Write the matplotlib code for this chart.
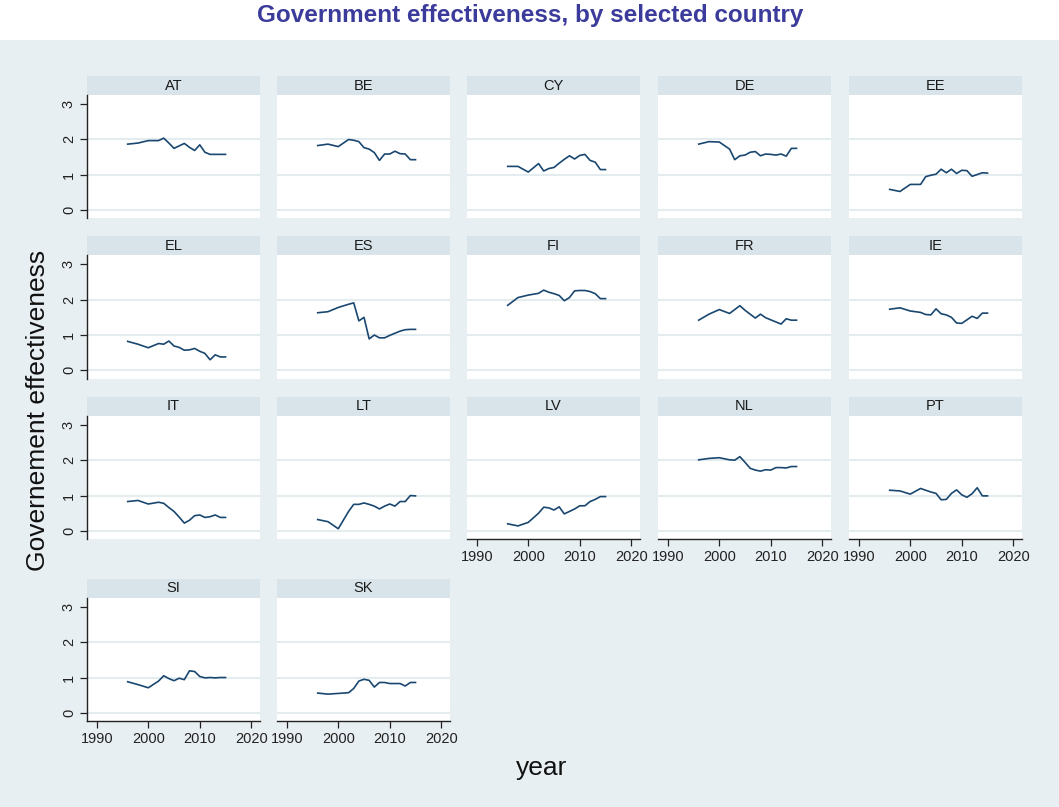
import matplotlib
matplotlib.use("Agg")
import matplotlib.pyplot as plt
from matplotlib.patches import Rectangle

plt.rcParams['font.family'] = ['Liberation Sans', 'DejaVu Sans']

years = [1996, 1998, 2000, 2002, 2003, 2004, 2005, 2006, 2007, 2008,
         2009, 2010, 2011, 2012, 2013, 2014, 2015]

AT = [1.86, 1.89, 1.96, 1.96, 2.03, 1.89, 1.74, 1.81, 1.88, 1.77, 1.68, 1.84, 1.63, 1.57, 1.57, 1.57, 1.57]
BE = [1.82, 1.86, 1.79, 1.99, 1.97, 1.93, 1.76, 1.72, 1.62, 1.40, 1.58, 1.58, 1.66, 1.59, 1.58, 1.42, 1.42]
CY = [1.23, 1.23, 1.07, 1.31, 1.10, 1.17, 1.20, 1.32, 1.43, 1.53, 1.44, 1.54, 1.57, 1.40, 1.35, 1.14, 1.14]
DE = [1.86, 1.93, 1.92, 1.72, 1.42, 1.53, 1.55, 1.63, 1.65, 1.53, 1.58, 1.57, 1.55, 1.58, 1.52, 1.74, 1.74]
EE = [0.58, 0.52, 0.72, 0.72, 0.94, 0.98, 1.01, 1.15, 1.05, 1.15, 1.03, 1.12, 1.11, 0.95, 1.00, 1.05, 1.04]
EL = [0.82, 0.74, 0.64, 0.76, 0.74, 0.83, 0.69, 0.65, 0.57, 0.58, 0.62, 0.54, 0.48, 0.30, 0.44, 0.38, 0.38]
ES = [1.63, 1.66, 1.78, 1.87, 1.91, 1.40, 1.50, 0.89, 1.00, 0.92, 0.92, 0.99, 1.05, 1.11, 1.15, 1.16, 1.16]
FI = [1.84, 2.06, 2.13, 2.18, 2.27, 2.21, 2.17, 2.12, 1.97, 2.06, 2.25, 2.26, 2.26, 2.23, 2.17, 2.03, 2.03]
FR = [1.42, 1.59, 1.72, 1.61, 1.72, 1.83, 1.70, 1.59, 1.48, 1.59, 1.49, 1.43, 1.37, 1.31, 1.46, 1.42, 1.42]
IE = [1.73, 1.77, 1.68, 1.64, 1.58, 1.57, 1.74, 1.60, 1.57, 1.50, 1.34, 1.33, 1.43, 1.53, 1.47, 1.62, 1.62]
IT = [0.83, 0.86, 0.76, 0.81, 0.78, 0.66, 0.55, 0.39, 0.22, 0.30, 0.43, 0.45, 0.38, 0.40, 0.45, 0.38, 0.38]
LT = [0.32, 0.26, 0.06, 0.55, 0.75, 0.75, 0.79, 0.75, 0.70, 0.62, 0.70, 0.76, 0.70, 0.83, 0.83, 1.00, 0.99]
LV = [0.20, 0.14, 0.24, 0.50, 0.67, 0.65, 0.59, 0.68, 0.48, 0.55, 0.62, 0.71, 0.71, 0.83, 0.89, 0.97, 0.97]
NL = [2.01, 2.05, 2.07, 2.01, 2.00, 2.10, 1.94, 1.77, 1.72, 1.69, 1.73, 1.72, 1.79, 1.79, 1.78, 1.82, 1.82]
PT = [1.15, 1.13, 1.04, 1.20, 1.15, 1.10, 1.06, 0.88, 0.89, 1.06, 1.16, 1.02, 0.95, 1.05, 1.22, 0.99, 0.99]
SI = [0.88, 0.80, 0.71, 0.90, 1.05, 0.97, 0.91, 0.98, 0.94, 1.19, 1.17, 1.03, 0.99, 1.00, 0.99, 1.00, 1.00]
SK = [0.56, 0.53, 0.55, 0.57, 0.69, 0.90, 0.95, 0.92, 0.73, 0.86, 0.86, 0.83, 0.83, 0.83, 0.76, 0.86, 0.86]

countries = ["AT", "BE", "CY", "DE", "EE", "EL", "ES", "FI", "FR", "IE",
             "IT", "LT", "LV", "NL", "PT", "SI", "SK"]
series = [AT, BE, CY, DE, EE, EL, ES, FI, FR, IE, IT, LT, LV, NL, PT, SI, SK]

y_ticks = [0, 1, 2, 3]
x_ticks = [1990, 2000, 2010, 2020]

W, H = 1059, 807
BG = "#e8eff2"
STRIP = "#d8e4ea"
GRID = "#e4ecef"
LINE = "#1a476f"
TITLE = "#3b3b9b"

fig = plt.figure(figsize=(W / 100, H / 100), dpi=100, facecolor="white")
fig.patches.append(Rectangle((0, 0), 1, 1 - 40 / H, transform=fig.transFigure,
                             facecolor=BG, edgecolor="none", zorder=-10))


def px_axes(left, top, w, h):
    return fig.add_axes([left / W, 1 - (top + h) / H, w / W, h / H])


col_left = [87, 277, 467, 658, 849]
row_top = [76, 236.5, 397, 579]
panel_w = 173
strip_h = 19
plot_h = 123

n = len(countries)
for i, (name, vals) in enumerate(zip(countries, series)):
    r, c = divmod(i, 5)
    left, top = col_left[c], row_top[r]

    # header strip
    sax = px_axes(left, top, panel_w, strip_h)
    sax.set_facecolor(STRIP)
    sax.set_xticks([])
    sax.set_yticks([])
    for sp in sax.spines.values():
        sp.set_visible(False)
    sax.text(0.5, 0.5, name, ha="center", va="center", fontsize=10.5,
             color="#1a1a1a", transform=sax.transAxes)

    ax = px_axes(left, top + strip_h, panel_w, plot_h)
    ax.set_facecolor("white")
    ax.set_xlim(1988.1, 2021.7)
    ax.set_ylim(-0.23, 3.25)
    for yv in y_ticks[:-1]:
        ax.axhline(yv, color=GRID, lw=1.5, zorder=1)
    ax.plot(years, vals, color=LINE, lw=1.2, zorder=3)

    for sp in ax.spines.values():
        sp.set_visible(False)

    show_left = (c == 0)
    show_bottom = (i + 5 >= n)

    ax.set_yticks(y_ticks)
    ax.set_xticks(x_ticks)
    ax.tick_params(axis="both", colors="#222222", labelsize=10.5, length=5,
                   width=0.9, labelcolor="#222222")
    if show_left:
        ax.spines["left"].set_visible(True)
        ax.spines["left"].set_color("#222222")
        ax.spines["left"].set_linewidth(1.0)
        ax.set_yticklabels([str(t) for t in y_ticks], rotation=90, va="center")
        ax.tick_params(axis="y", pad=3)
    else:
        ax.tick_params(axis="y", left=False, labelleft=False)
    if show_bottom:
        ax.spines["bottom"].set_visible(True)
        ax.spines["bottom"].set_color("#222222")
        ax.spines["bottom"].set_linewidth(1.0)
        ax.set_xticklabels([str(t) for t in x_ticks])
        ax.tick_params(axis="x", pad=3)
    else:
        ax.tick_params(axis="x", bottom=False, labelbottom=False)

fig.text(530 / W, 1 - 22 / H, "Government effectiveness, by selected country",
         ha="center", va="baseline", fontsize=17.5, fontweight="bold", color=TITLE)
fig.text(38 / W, 1 - 410 / H, "Governement effectiveness", rotation=90,
         ha="center", va="center", fontsize=19, color="#111111")
fig.text(542 / W, 1 - 768 / H, "year", ha="center", va="center",
         fontsize=19, color="#111111")

fig.savefig("out.png", dpi=100, facecolor=fig.get_facecolor())
